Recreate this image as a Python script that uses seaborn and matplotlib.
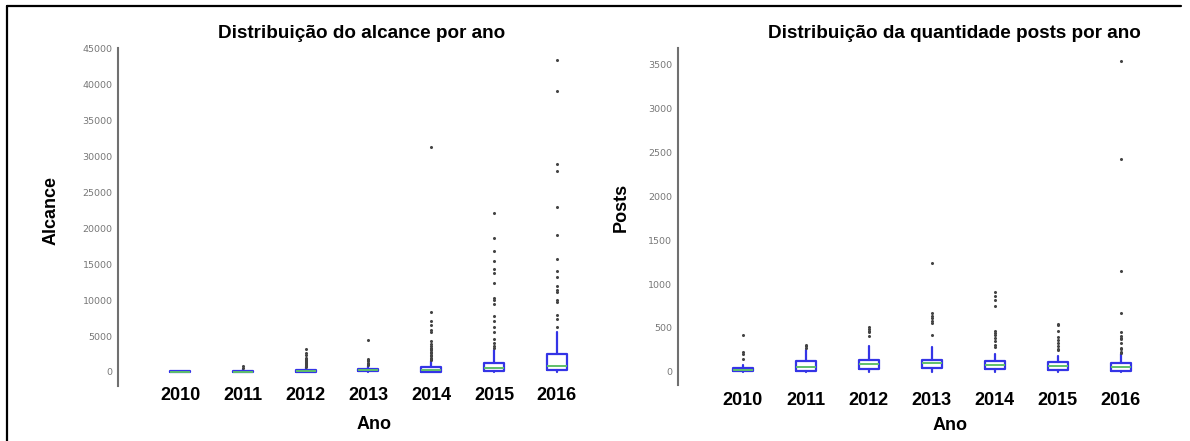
import matplotlib
matplotlib.use("Agg")
import matplotlib.pyplot as plt
import seaborn as sns
from matplotlib.lines import Line2D

# Dados (valores aproximados)
anos = ["2010", "2011", "2012", "2013", "2014", "2015", "2016"]

# Alcance: q1, mediana, q3, limite inferior, limite superior
alc_q1 = [0, 0, 20, 100, 50, 100, 250]
alc_med = [40, 50, 100, 250, 250, 500, 900]
alc_q3 = [120, 150, 280, 400, 650, 1300, 2450]
alc_lo = [0, 0, 0, 0, 0, 0, 0]
alc_hi = [200, 350, 650, 850, 1500, 3000, 5600]
alc_out = [
    [],
    [600, 850],
    [750, 900, 1000, 1100, 1250, 1400, 1550, 1700, 1850, 2000, 2300, 2700, 3200],
    [950, 1100, 1300, 1500, 1700, 1850, 4400],
    [1650, 1800, 2000, 2200, 2400, 2600, 2800, 3000, 3200, 3400, 3600, 3900,
     4300, 5500, 5800, 6600, 7100, 8300, 31300],
    [3300, 3600, 4000, 4600, 5500, 6200, 7100, 7800, 9500, 10000, 10300, 12400,
     13800, 14300, 15500, 16900, 18700, 22200],
    [6200, 7400, 8000, 9700, 10000, 11100, 11400, 12000, 13200, 14100, 15700,
     19100, 22900, 28000, 28900, 39100, 43500],
]

# Posts
pos_q1 = [5, 10, 30, 45, 30, 25, 15]
pos_med = [20, 60, 85, 100, 80, 70, 60]
pos_q3 = [45, 125, 140, 140, 125, 110, 105]
pos_lo = [0, 0, 0, 0, 0, 0, 0]
pos_hi = [80, 250, 300, 280, 200, 185, 200]
pos_out = [
    [150, 200, 230, 420],
    [270, 290, 305],
    [410, 450, 470, 490, 510],
    [420, 555, 575, 610, 640, 665, 1240],
    [285, 305, 355, 380, 420, 440, 460, 750, 820, 860, 915],
    [245, 265, 300, 325, 360, 400, 470, 530, 550],
    [215, 230, 255, 275, 330, 370, 385, 405, 450, 665, 1150, 2420, 3545],
]

sns.set_style("white")
plt.rcParams["font.family"] = ["Liberation Sans", "DejaVu Sans"]
plt.rcParams["text.color"] = "black"
plt.rcParams["axes.labelcolor"] = "black"
plt.rcParams["xtick.color"] = "black"

AZUL = "#3434e6"


def stats(q1, med, q3, lo, hi, out):
    res = []
    for i in range(len(q1)):
        res.append({"q1": q1[i], "med": med[i], "q3": q3[i],
                    "whislo": lo[i], "whishi": hi[i], "fliers": out[i]})
    return res


def desenha(ax, st, titulo, ylabel, ylim, yticks, xlim, tpos, ylpos, xlpos, pad):
    ax.bxp(
        st, positions=range(len(st)), widths=0.32, showcaps=False,
        boxprops=dict(color=AZUL, linewidth=1.6),
        whiskerprops=dict(color=AZUL, linewidth=1.6),
        medianprops=dict(color="#5fbf6a", linewidth=1.4),
        flierprops=dict(marker="o", markersize=1.2, markerfacecolor="#444444",
                        markeredgecolor="#444444", linestyle="none"),
        manage_ticks=False,
    )
    ax.set_xlim(*xlim)
    ax.set_ylim(*ylim)
    ax.set_yticks(yticks)
    ax.set_yticklabels([str(v) for v in yticks], family="DejaVu Sans",
                       fontsize=6.8, color="#777777")
    ax.tick_params(axis="y", direction="in", length=4, width=1, color="#666666", pad=4)
    ax.set_xticks(range(len(anos)))
    ax.set_xticklabels(anos, fontsize=13, fontweight="bold", color="black")
    ax.tick_params(axis="x", length=0, pad=pad)
    sns.despine(ax=ax, bottom=True)
    ax.spines["left"].set_color("#707070")
    ax.spines["left"].set_linewidth(1.5)
    ax.set_title(titulo, fontsize=13.6, fontweight="bold", x=tpos[0], y=tpos[1],
                 va="center", pad=0, color="black")
    ax.set_ylabel(ylabel, fontsize=13, fontweight="bold")
    ax.yaxis.set_label_coords(*ylpos)
    ax.set_xlabel("Ano", fontsize=13, fontweight="bold")
    ax.xaxis.set_label_coords(*xlpos)


fig = plt.figure(figsize=(11.9, 4.41), dpi=100)
ax1 = fig.add_axes([0.0992, 0.1247, 0.395, 0.7664])
ax2 = fig.add_axes([0.5697, 0.127, 0.4143, 0.764])

desenha(ax1, stats(alc_q1, alc_med, alc_q3, alc_lo, alc_hi, alc_out),
        "Distribuição do alcance por ano", "Alcance",
        (-1950, 45100), list(range(0, 45001, 5000)), (-0.99, 6.5),
        (0.519, 1.044), (-0.124, 0.52), (0.545, -0.09), 1)
desenha(ax2, stats(pos_q1, pos_med, pos_q3, pos_lo, pos_hi, pos_out),
        "Distribuição da quantidade posts por ano", "Posts",
        (-150, 3690), list(range(0, 3501, 500)), (-1.03, 6.8),
        (0.56, 1.042), (-0.098, 0.528), (0.552, -0.096), 5)

# moldura externa
fig.add_artist(Line2D([7 / 1190, 7 / 1190], [0, 1 - 6 / 441], color="black", lw=1.6))
fig.add_artist(Line2D([7 / 1190, 1181 / 1190], [1 - 6 / 441, 1 - 6 / 441], color="black", lw=1.6))

plt.savefig("out.png", dpi=100)
plt.close()
